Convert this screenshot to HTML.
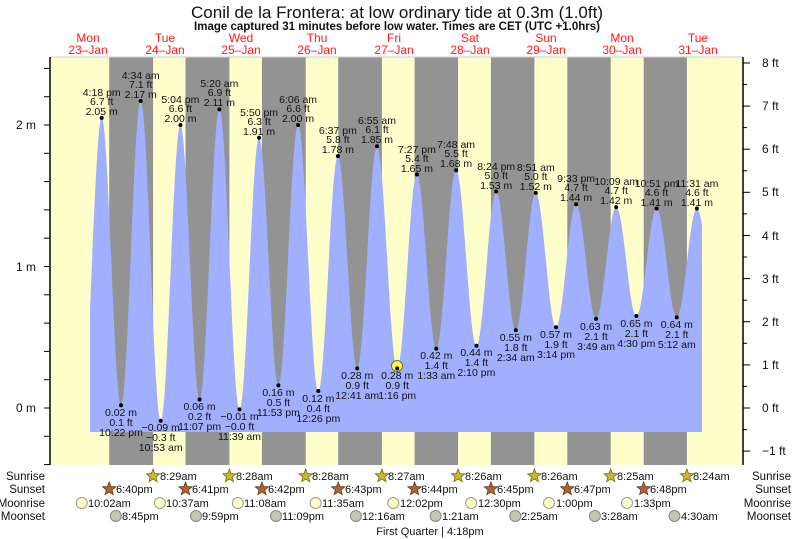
<!DOCTYPE html>
<html><head><meta charset="utf-8"><style>
html,body{margin:0;padding:0;background:#fff}
svg{display:block;font-family:"Liberation Sans",sans-serif}
.l{font-size:10.5px;fill:#111;text-anchor:middle}
.r{font-size:12px;fill:#111}
.b{font-size:11.5px;fill:#111}
.d{font-size:12px;fill:#ff1a1a;text-anchor:middle}
</style></head><body>
<svg width="793" height="539" viewBox="0 0 793 539" xmlns="http://www.w3.org/2000/svg">
<defs>
<polygon id="st" points="0,-7 1.76,-2.43 6.66,-2.16 2.85,0.93 4.11,5.66 0,3 -4.11,5.66 -2.85,0.93 -6.66,-2.16 -1.76,-2.43"/>
<clipPath id="cp"><rect x="90" y="57" width="612" height="408"/></clipPath>
</defs>
<rect x="50" y="57" width="693" height="408" fill="#ffffcc"/>
<g fill="#939393">
<rect x="109.2" y="57" width="43.9" height="408"/>
<rect x="185.5" y="57" width="43.9" height="408"/>
<rect x="261.9" y="57" width="43.8" height="408"/>
<rect x="338.2" y="57" width="43.7" height="408"/>
<rect x="414.6" y="57" width="43.5" height="408"/>
<rect x="490.9" y="57" width="43.5" height="408"/>
<rect x="567.3" y="57" width="43.4" height="408"/>
<rect x="643.7" y="57" width="43.2" height="408"/>
</g>
<path clip-path="url(#cp)" fill="#a0b0ff" d="M82.3,408 C89.3,408 94.7,117.9 101.7,117.9 C108.6,117.9 114,405.2 121,405.2 C128.1,405.2 133.6,101 140.7,101 C147.9,101 153.5,420.7 160.7,420.7 C167.8,420.7 173.3,125 180.4,125 C187.3,125 192.7,399.5 199.6,399.5 C206.7,399.5 212.3,109.4 219.4,109.4 C226.6,109.4 232.3,409.4 239.5,409.4 C246.6,409.4 252,137.7 259.1,137.7 C266,137.7 271.5,385.4 278.4,385.4 C285.5,385.4 291,125 298.1,125 C305.4,125 311,391 318.3,391 C325.4,391 330.8,156.1 337.9,156.1 C344.8,156.1 350.3,368.4 357.2,368.4 C364.3,368.4 369.9,146.2 377,146.2 C384.3,146.2 389.9,368.4 397.2,368.4 C404.3,368.4 409.8,174.5 416.9,174.5 C423.9,174.5 429.3,348.6 436.3,348.6 C443.4,348.6 449,170.3 456.1,170.3 C463.4,170.3 469.1,345.7 476.4,345.7 C483.5,345.7 489.1,191.5 496.2,191.5 C503.3,191.5 508.7,330.2 515.8,330.2 C523,330.2 528.6,192.9 535.8,192.9 C543.1,192.9 548.7,327.3 556,327.3 C563.2,327.3 568.9,204.2 576.1,204.2 C583.3,204.2 588.9,318.9 596.1,318.9 C603.3,318.9 609,207.1 616.2,207.1 C623.5,207.1 629.1,316 636.4,316 C643.7,316 649.3,208.5 656.6,208.5 C663.9,208.5 669.5,317.4 676.8,317.4 C684.1,317.4 689.6,208.5 696.9,208.5 C704,208.5 709.4,316 716.5,316 L716.5,432 L82.3,432 Z"/>
<line x1="50" y1="57" x2="743" y2="57" stroke="#ccc" stroke-width="1"/>
<line x1="50" y1="57" x2="50" y2="465" stroke="#000" stroke-width="1.5"/>
<line x1="743" y1="57" x2="743" y2="465" stroke="#000" stroke-width="1.5"/>
<g stroke="#000" stroke-width="1">
<line x1="44" y1="464.6" x2="50" y2="464.6"/><line x1="44" y1="436.3" x2="50" y2="436.3"/><line x1="44" y1="408" x2="50" y2="408"/><line x1="44" y1="379.7" x2="50" y2="379.7"/><line x1="44" y1="351.4" x2="50" y2="351.4"/><line x1="44" y1="323.1" x2="50" y2="323.1"/><line x1="44" y1="294.8" x2="50" y2="294.8"/><line x1="44" y1="266.5" x2="50" y2="266.5"/><line x1="44" y1="238.2" x2="50" y2="238.2"/><line x1="44" y1="209.9" x2="50" y2="209.9"/><line x1="44" y1="181.6" x2="50" y2="181.6"/><line x1="44" y1="153.3" x2="50" y2="153.3"/><line x1="44" y1="125" x2="50" y2="125"/><line x1="44" y1="96.7" x2="50" y2="96.7"/><line x1="44" y1="68.4" x2="50" y2="68.4"/>
<line x1="743" y1="451.1" x2="750" y2="451.1"/><line x1="743" y1="429.6" x2="747" y2="429.6"/><line x1="743" y1="408" x2="750" y2="408"/><line x1="743" y1="386.4" x2="747" y2="386.4"/><line x1="743" y1="364.9" x2="750" y2="364.9"/><line x1="743" y1="343.3" x2="747" y2="343.3"/><line x1="743" y1="321.7" x2="750" y2="321.7"/><line x1="743" y1="300.2" x2="747" y2="300.2"/><line x1="743" y1="278.6" x2="750" y2="278.6"/><line x1="743" y1="257" x2="747" y2="257"/><line x1="743" y1="235.5" x2="750" y2="235.5"/><line x1="743" y1="213.9" x2="747" y2="213.9"/><line x1="743" y1="192.3" x2="750" y2="192.3"/><line x1="743" y1="170.8" x2="747" y2="170.8"/><line x1="743" y1="149.2" x2="750" y2="149.2"/><line x1="743" y1="127.6" x2="747" y2="127.6"/><line x1="743" y1="106.1" x2="750" y2="106.1"/><line x1="743" y1="84.5" x2="747" y2="84.5"/><line x1="743" y1="63" x2="750" y2="63"/>
</g>
<g class="r" text-anchor="end">
<text x="36" y="412">0 m</text><text x="36" y="271">1 m</text><text x="36" y="129">2 m</text>
</g>
<g class="r">
<text x="762" y="455">−1 ft</text><text x="762" y="412">0 ft</text><text x="762" y="369">1 ft</text><text x="762" y="326">2 ft</text><text x="762" y="283">3 ft</text><text x="762" y="240">4 ft</text><text x="762" y="196">5 ft</text><text x="762" y="153">6 ft</text><text x="762" y="110">7 ft</text><text x="762" y="67">8 ft</text>
</g>
<text x="397" y="18" text-anchor="middle" style="font-size:17px;fill:#111">Conil de la Frontera: at low  ordinary tide at 0.3m (1.0ft)</text>
<text x="397" y="30" text-anchor="middle" style="font-size:11.5px;font-weight:bold;fill:#111">Image captured 31 minutes before low water. Times are CET (UTC +1.0hrs)</text>
<g class="d">
<text x="88" y="42">Mon</text><text x="88" y="54">23–Jan</text>
<text x="165" y="42">Tue</text><text x="165" y="54">24–Jan</text>
<text x="241" y="42">Wed</text><text x="241" y="54">25–Jan</text>
<text x="317" y="42">Thu</text><text x="317" y="54">26–Jan</text>
<text x="394" y="42">Fri</text><text x="394" y="54">27–Jan</text>
<text x="470" y="42">Sat</text><text x="470" y="54">28–Jan</text>
<text x="546" y="42">Sun</text><text x="546" y="54">29–Jan</text>
<text x="622" y="42">Mon</text><text x="622" y="54">30–Jan</text>
<text x="698" y="42">Tue</text><text x="698" y="54">31–Jan</text>
</g>
<circle cx="397" cy="366" r="5.5" fill="#ffff30" stroke="#666" stroke-width="1"/>
<g fill="#000">
<circle cx="101.7" cy="117.9" r="2"/><circle cx="121" cy="405.2" r="2"/><circle cx="140.7" cy="101" r="2"/><circle cx="160.7" cy="420.7" r="2"/><circle cx="180.4" cy="125" r="2"/><circle cx="199.6" cy="399.5" r="2"/><circle cx="219.4" cy="109.4" r="2"/><circle cx="239.5" cy="409.4" r="2"/><circle cx="259.1" cy="137.7" r="2"/><circle cx="278.4" cy="385.4" r="2"/><circle cx="298.1" cy="125" r="2"/><circle cx="318.3" cy="391" r="2"/><circle cx="337.9" cy="156.1" r="2"/><circle cx="357.2" cy="368.4" r="2"/><circle cx="377" cy="146.2" r="2"/><circle cx="397.2" cy="368.4" r="2"/><circle cx="416.9" cy="174.5" r="2"/><circle cx="436.3" cy="348.6" r="2"/><circle cx="456.1" cy="170.3" r="2"/><circle cx="476.4" cy="345.7" r="2"/><circle cx="496.2" cy="191.5" r="2"/><circle cx="515.8" cy="330.2" r="2"/><circle cx="535.8" cy="192.9" r="2"/><circle cx="556" cy="327.3" r="2"/><circle cx="576.1" cy="204.2" r="2"/><circle cx="596.1" cy="318.9" r="2"/><circle cx="616.2" cy="207.1" r="2"/><circle cx="636.4" cy="316" r="2"/><circle cx="656.6" cy="208.5" r="2"/><circle cx="676.8" cy="317.4" r="2"/><circle cx="696.9" cy="208.5" r="2"/>
</g>
<g class="l">
<text x="101.7" y="96">4:18 pm</text><text x="101.7" y="105">6.7 ft</text><text x="101.7" y="115">2.05 m</text>
<text x="140.7" y="79">4:34 am</text><text x="140.7" y="88">7.1 ft</text><text x="140.7" y="98">2.17 m</text>
<text x="180.4" y="103">5:04 pm</text><text x="180.4" y="112">6.6 ft</text><text x="180.4" y="122">2.00 m</text>
<text x="219.4" y="87">5:20 am</text><text x="219.4" y="96">6.9 ft</text><text x="219.4" y="106">2.11 m</text>
<text x="259.1" y="116">5:50 pm</text><text x="259.1" y="125">6.3 ft</text><text x="259.1" y="135">1.91 m</text>
<text x="298.1" y="103">6:06 am</text><text x="298.1" y="112">6.6 ft</text><text x="298.1" y="122">2.00 m</text>
<text x="337.9" y="134">6:37 pm</text><text x="337.9" y="143">5.8 ft</text><text x="337.9" y="153">1.78 m</text>
<text x="377" y="124">6:55 am</text><text x="377" y="133">6.1 ft</text><text x="377" y="143">1.85 m</text>
<text x="416.9" y="153">7:27 pm</text><text x="416.9" y="162">5.4 ft</text><text x="416.9" y="172">1.65 m</text>
<text x="456.1" y="148">7:48 am</text><text x="456.1" y="157">5.5 ft</text><text x="456.1" y="167">1.68 m</text>
<text x="496.2" y="170">8:24 pm</text><text x="496.2" y="179">5.0 ft</text><text x="496.2" y="189">1.53 m</text>
<text x="535.8" y="171">8:51 am</text><text x="535.8" y="180">5.0 ft</text><text x="535.8" y="190">1.52 m</text>
<text x="576.1" y="182">9:33 pm</text><text x="576.1" y="191">4.7 ft</text><text x="576.1" y="201">1.44 m</text>
<text x="616.2" y="185">10:09 am</text><text x="616.2" y="194">4.7 ft</text><text x="616.2" y="204">1.42 m</text>
<text x="656.6" y="187">10:51 pm</text><text x="656.6" y="196">4.6 ft</text><text x="656.6" y="206">1.41 m</text>
<text x="696.9" y="187">11:31 am</text><text x="696.9" y="196">4.6 ft</text><text x="696.9" y="206">1.41 m</text>

<text x="121" y="416">0.02 m</text><text x="121" y="426">0.1 ft</text><text x="121" y="436">10:22 pm</text>
<text x="160.7" y="431">−0.09 m</text><text x="160.7" y="441">−0.3 ft</text><text x="160.7" y="451">10:53 am</text>
<text x="199.6" y="410">0.06 m</text><text x="199.6" y="420">0.2 ft</text><text x="199.6" y="430">11:07 pm</text>
<text x="239.5" y="420">−0.01 m</text><text x="239.5" y="430">−0.0 ft</text><text x="239.5" y="440">11:39 am</text>
<text x="278.4" y="396">0.16 m</text><text x="278.4" y="406">0.5 ft</text><text x="278.4" y="416">11:53 pm</text>
<text x="318.3" y="402">0.12 m</text><text x="318.3" y="412">0.4 ft</text><text x="318.3" y="422">12:26 pm</text>
<text x="357.2" y="379">0.28 m</text><text x="357.2" y="389">0.9 ft</text><text x="357.2" y="399">12:41 am</text>
<text x="397.2" y="379">0.28 m</text><text x="397.2" y="389">0.9 ft</text><text x="397.2" y="399">1:16 pm</text>
<text x="436.3" y="359">0.42 m</text><text x="436.3" y="369">1.4 ft</text><text x="436.3" y="379">1:33 am</text>
<text x="476.4" y="356">0.44 m</text><text x="476.4" y="366">1.4 ft</text><text x="476.4" y="376">2:10 pm</text>
<text x="515.8" y="341">0.55 m</text><text x="515.8" y="351">1.8 ft</text><text x="515.8" y="361">2:34 am</text>
<text x="556" y="338">0.57 m</text><text x="556" y="348">1.9 ft</text><text x="556" y="358">3:14 pm</text>
<text x="596.1" y="330">0.63 m</text><text x="596.1" y="340">2.1 ft</text><text x="596.1" y="350">3:49 am</text>
<text x="636.4" y="327">0.65 m</text><text x="636.4" y="337">2.1 ft</text><text x="636.4" y="347">4:30 pm</text>
<text x="676.8" y="328">0.64 m</text><text x="676.8" y="338">2.1 ft</text><text x="676.8" y="348">5:12 am</text>
</g>
<g class="b" text-anchor="end">
<text x="45" y="480">Sunrise</text><text x="45" y="493">Sunset</text><text x="45" y="507">Moonrise</text><text x="45" y="520">Moonset</text>
</g>
<g class="b" text-anchor="end">
<text x="791" y="480">Sunrise</text><text x="791" y="493">Sunset</text><text x="791" y="507">Moonrise</text><text x="791" y="520">Moonset</text>
</g>
<g fill="#c8b830" stroke="#7a6a10" stroke-width="0.8">
<use href="#st" x="153.1" y="476"/><use href="#st" x="229.4" y="476"/><use href="#st" x="305.7" y="476"/><use href="#st" x="381.9" y="476"/><use href="#st" x="458.1" y="476"/><use href="#st" x="534.4" y="476"/><use href="#st" x="610.7" y="476"/><use href="#st" x="686.9" y="476"/>
</g>
<g fill="#b0603c" stroke="#6a3a10" stroke-width="0.8">
<use href="#st" x="109.2" y="489"/><use href="#st" x="185.5" y="489"/><use href="#st" x="261.9" y="489"/><use href="#st" x="338.2" y="489"/><use href="#st" x="414.6" y="489"/><use href="#st" x="490.9" y="489"/><use href="#st" x="567.3" y="489"/><use href="#st" x="643.7" y="489"/>
</g>
<g fill="#ffffc8" stroke="#999" stroke-width="1">
<circle cx="81.7" cy="503" r="5.5"/><circle cx="159.9" cy="503" r="5.5"/><circle cx="237.8" cy="503" r="5.5"/><circle cx="315.6" cy="503" r="5.5"/><circle cx="393.3" cy="503" r="5.5"/><circle cx="471.1" cy="503" r="5.5"/><circle cx="549" cy="503" r="5.5"/><circle cx="627" cy="503" r="5.5"/>
</g>
<g fill="#c4c4b8" stroke="#888" stroke-width="1">
<circle cx="115.8" cy="516" r="5.5"/><circle cx="196" cy="516" r="5.5"/><circle cx="276" cy="516" r="5.5"/><circle cx="355.9" cy="516" r="5.5"/><circle cx="435.6" cy="516" r="5.5"/><circle cx="515.3" cy="516" r="5.5"/><circle cx="594.9" cy="516" r="5.5"/><circle cx="674.5" cy="516" r="5.5"/>
</g>
<g style="font-size:11px;fill:#111">
<text x="160" y="480">8:29am</text><text x="236" y="480">8:28am</text><text x="312" y="480">8:28am</text><text x="388" y="480">8:27am</text><text x="465" y="480">8:26am</text><text x="541" y="480">8:26am</text><text x="617" y="480">8:25am</text><text x="693" y="480">8:24am</text>
<text x="116" y="493">6:40pm</text><text x="192" y="493">6:41pm</text><text x="268" y="493">6:42pm</text><text x="345" y="493">6:43pm</text><text x="421" y="493">6:44pm</text><text x="497" y="493">6:45pm</text><text x="574" y="493">6:47pm</text><text x="650" y="493">6:48pm</text>
<text x="88" y="507">10:02am</text><text x="166" y="507">10:37am</text><text x="244" y="507">11:08am</text><text x="322" y="507">11:35am</text><text x="400" y="507">12:02pm</text><text x="478" y="507">12:30pm</text><text x="556" y="507">1:00pm</text><text x="634" y="507">1:33pm</text>
<text x="122" y="520">8:45pm</text><text x="202" y="520">9:59pm</text><text x="282" y="520">11:09pm</text><text x="362" y="520">12:16am</text><text x="442" y="520">1:21am</text><text x="521" y="520">2:25am</text><text x="601" y="520">3:28am</text><text x="681" y="520">4:30am</text>
<text x="430" y="535" text-anchor="middle">First Quarter | 4:18pm</text>
</g>
</svg>
</body></html>
